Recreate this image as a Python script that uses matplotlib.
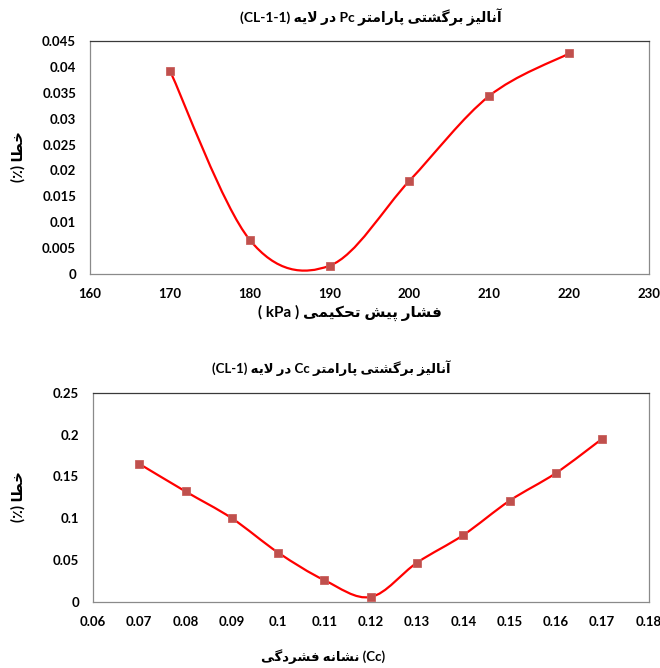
import matplotlib
matplotlib.use("Agg")
import matplotlib.pyplot as plt
from matplotlib.path import Path
from matplotlib.patches import PathPatch

# داده‌ها - نمودار بالا (Pc)
pc_x = [170, 180, 190, 200, 210, 220]
pc_err = [0.0393, 0.0066, 0.0016, 0.0180, 0.0344, 0.0426]
pc_xticks = [160, 170, 180, 190, 200, 210, 220, 230]
pc_yticks = [0, 0.005, 0.01, 0.015, 0.02, 0.025, 0.03, 0.035, 0.04, 0.045]
pc_yticklabels = ["0", "0.005", "0.01", "0.015", "0.02", "0.025", "0.03", "0.035", "0.04", "0.045"]

# داده‌ها - نمودار پایین (Cc)
cc_x = [0.07, 0.08, 0.09, 0.10, 0.11, 0.12, 0.13, 0.14, 0.15, 0.16, 0.17]
cc_err = [0.165, 0.132, 0.100, 0.059, 0.026, 0.006, 0.047, 0.080, 0.121, 0.154, 0.195]
cc_xticks = [0.06, 0.07, 0.08, 0.09, 0.10, 0.11, 0.12, 0.13, 0.14, 0.15, 0.16, 0.17, 0.18]
cc_xticklabels = ["0.06", "0.07", "0.08", "0.09", "0.1", "0.11", "0.12", "0.13",
                  "0.14", "0.15", "0.16", "0.17", "0.18"]
cc_yticks = [0, 0.05, 0.1, 0.15, 0.2, 0.25]
cc_yticklabels = ["0", "0.05", "0.1", "0.15", "0.2", "0.25"]

# -----------------------------------------------------------
# شکل‌دهی ساده حروف فارسی (matplotlib اتصال حروف را انجام نمی‌دهد)
# -----------------------------------------------------------
FORMS = {
    'ا': ('\uFE8D', '\uFE8E'),
    'آ': ('\uFE81', '\uFE82'),
    'د': ('\uFEA9', '\uFEAA'),
    'ر': ('\uFEAD', '\uFEAE'),
    'ز': ('\uFEAF', '\uFEB0'),
    'ب': ('\uFE8F', '\uFE90', '\uFE91', '\uFE92'),
    'ت': ('\uFE95', '\uFE96', '\uFE97', '\uFE98'),
    'ح': ('\uFEA1', '\uFEA2', '\uFEA3', '\uFEA4'),
    'خ': ('\uFEA5', '\uFEA6', '\uFEA7', '\uFEA8'),
    'ش': ('\uFEB5', '\uFEB6', '\uFEB7', '\uFEB8'),
    'ط': ('\uFEC1', '\uFEC2', '\uFEC3', '\uFEC4'),
    'ف': ('\uFED1', '\uFED2', '\uFED3', '\uFED4'),
    'ل': ('\uFEDD', '\uFEDE', '\uFEDF', '\uFEE0'),
    'م': ('\uFEE1', '\uFEE2', '\uFEE3', '\uFEE4'),
    'ن': ('\uFEE5', '\uFEE6', '\uFEE7', '\uFEE8'),
    'ه': ('\uFEE9', '\uFEEA', '\uFEEB', '\uFEEC'),
    'ی': ('\uFBFC', '\uFBFD', '\uFBFE', '\uFBFF'),
    'پ': ('\uFB56', '\uFB57', '\uFB58', '\uFB59'),
    'ک': ('\uFB8E', '\uFB8F', '\uFB90', '\uFB91'),
    'گ': ('\uFB92', '\uFB93', '\uFB94', '\uFB95'),
}
LAM_ALEF = {'ا': ('\uFEFB', '\uFEFC'), 'آ': ('\uFEF5', '\uFEF6')}


def shape(s):
    out = []
    i = 0
    n = len(s)
    while i < n:
        c = s[i]
        if c not in FORMS:
            out.append(c)
            i += 1
            continue
        prev_joins = i > 0 and s[i - 1] in FORMS and len(FORMS[s[i - 1]]) == 4
        if c == 'ل' and i + 1 < n and s[i + 1] in LAM_ALEF:
            out.append(LAM_ALEF[s[i + 1]][1 if prev_joins else 0])
            i += 2
            continue
        f = FORMS[c]
        if len(f) == 2:
            out.append(f[1] if prev_joins else f[0])
        else:
            next_joins = i + 1 < n and s[i + 1] in FORMS
            out.append(f[(1 if prev_joins else 0) + (2 if next_joins else 0)])
        i += 1
    return ''.join(out)


def rtl(*parts):
    # parts در ترتیب منطقی، پاراگراف راست‌به‌چپ؛ متن لاتین دست‌نخورده
    vis = []
    for p in parts:
        if any(ch in FORMS for ch in p):
            vis.append(shape(p)[::-1])
        else:
            vis.append(p)
    return ''.join(reversed(vis))


def smooth_path(xs, ys):
    # منحنی نرم شبیه Excel (Catmull-Rom به صورت بزیه)
    pts = list(zip(xs, ys))
    verts = [pts[0]]
    codes = [Path.MOVETO]
    n = len(pts)
    for i in range(n - 1):
        p0 = pts[max(i - 1, 0)]
        p1 = pts[i]
        p2 = pts[i + 1]
        p3 = pts[min(i + 2, n - 1)]
        c1 = (p1[0] + (p2[0] - p0[0]) / 6, p1[1] + (p2[1] - p0[1]) / 6)
        c2 = (p2[0] - (p3[0] - p1[0]) / 6, p2[1] - (p3[1] - p1[1]) / 6)
        verts += [c1, c2, p2]
        codes += [Path.CURVE4] * 3
    return Path(verts, codes)


FAM = ['Lato', 'DejaVu Sans']
plt.rcParams['font.family'] = FAM
plt.rcParams['font.weight'] = 'bold'

W, H = 660, 668
fig = plt.figure(figsize=(W / 100, H / 100), dpi=100)


def px(x, y):
    return x / W, 1 - y / H


def style_axes(ax):
    for name, sp in ax.spines.items():
        sp.set_linewidth(0.9)
        sp.set_color('#3a3a3a' if name == 'top' else '#8a8a8a')
    ax.tick_params(length=0, labelsize=9.5, pad=10)
    for lab in ax.get_xticklabels() + ax.get_yticklabels():
        lab.set_fontweight('bold')


def draw_series(ax, xs, ys):
    ax.add_patch(PathPatch(smooth_path(xs, ys), fill=False, edgecolor='#ff0000',
                           linewidth=1.6, zorder=2))
    ax.plot(xs, ys, linestyle='none', marker='s', markersize=5.8,
            markerfacecolor='#c0504d', markeredgecolor='#c9605d',
            markeredgewidth=0.6, zorder=3)


# ---------------- نمودار بالا ----------------
ax1 = fig.add_axes([90 / W, 1 - 274 / H, 559 / W, 233 / H])
draw_series(ax1, pc_x, pc_err)
ax1.set_xlim(160, 230)
ax1.set_ylim(0, 0.045)
ax1.set_xticks(pc_xticks)
ax1.set_xticklabels([str(v) for v in pc_xticks])
ax1.set_yticks(pc_yticks)
ax1.set_yticklabels(pc_yticklabels)
style_axes(ax1)

fig.text(*px(371, 17), rtl('آنالیز برگشتی پارامتر ', 'Pc', ' در لایه ', '(CL-1-1)'),
         ha='center', va='center', fontsize=10, fontweight='bold')
fig.text(*px(350, 313), rtl('فشار پیش تحکیمی ', '( kPa )'),
         ha='center', va='center', fontsize=11, fontweight='bold')
fig.text(*px(18, 157), rtl('خطا ', '(٪)'), rotation=90,
         ha='center', va='center', fontsize=10.5, fontweight='bold')

# ---------------- نمودار پایین ----------------
ax2 = fig.add_axes([93 / W, 1 - 602 / H, 555.5 / W, 209.3 / H])
draw_series(ax2, cc_x, cc_err)
ax2.set_xlim(0.06, 0.18)
ax2.set_ylim(0, 0.25)
ax2.set_xticks(cc_xticks)
ax2.set_xticklabels(cc_xticklabels)
ax2.set_yticks(cc_yticks)
ax2.set_yticklabels(cc_yticklabels)
style_axes(ax2)

fig.text(*px(331, 368), rtl('آنالیز برگشتی پارامتر ', 'Cc', ' در لایه ', '(CL-1)'),
         ha='center', va='center', fontsize=9.5, fontweight='bold')
fig.text(*px(323, 657), shape('نشانه فشردگی')[::-1] + ' (Cc)',
         ha='center', va='center', fontsize=9.5, fontweight='bold')
fig.text(*px(18, 497), rtl('خطا ', '(٪)'), rotation=90,
         ha='center', va='center', fontsize=10.5, fontweight='bold')

fig.savefig('out.png', dpi=100)
